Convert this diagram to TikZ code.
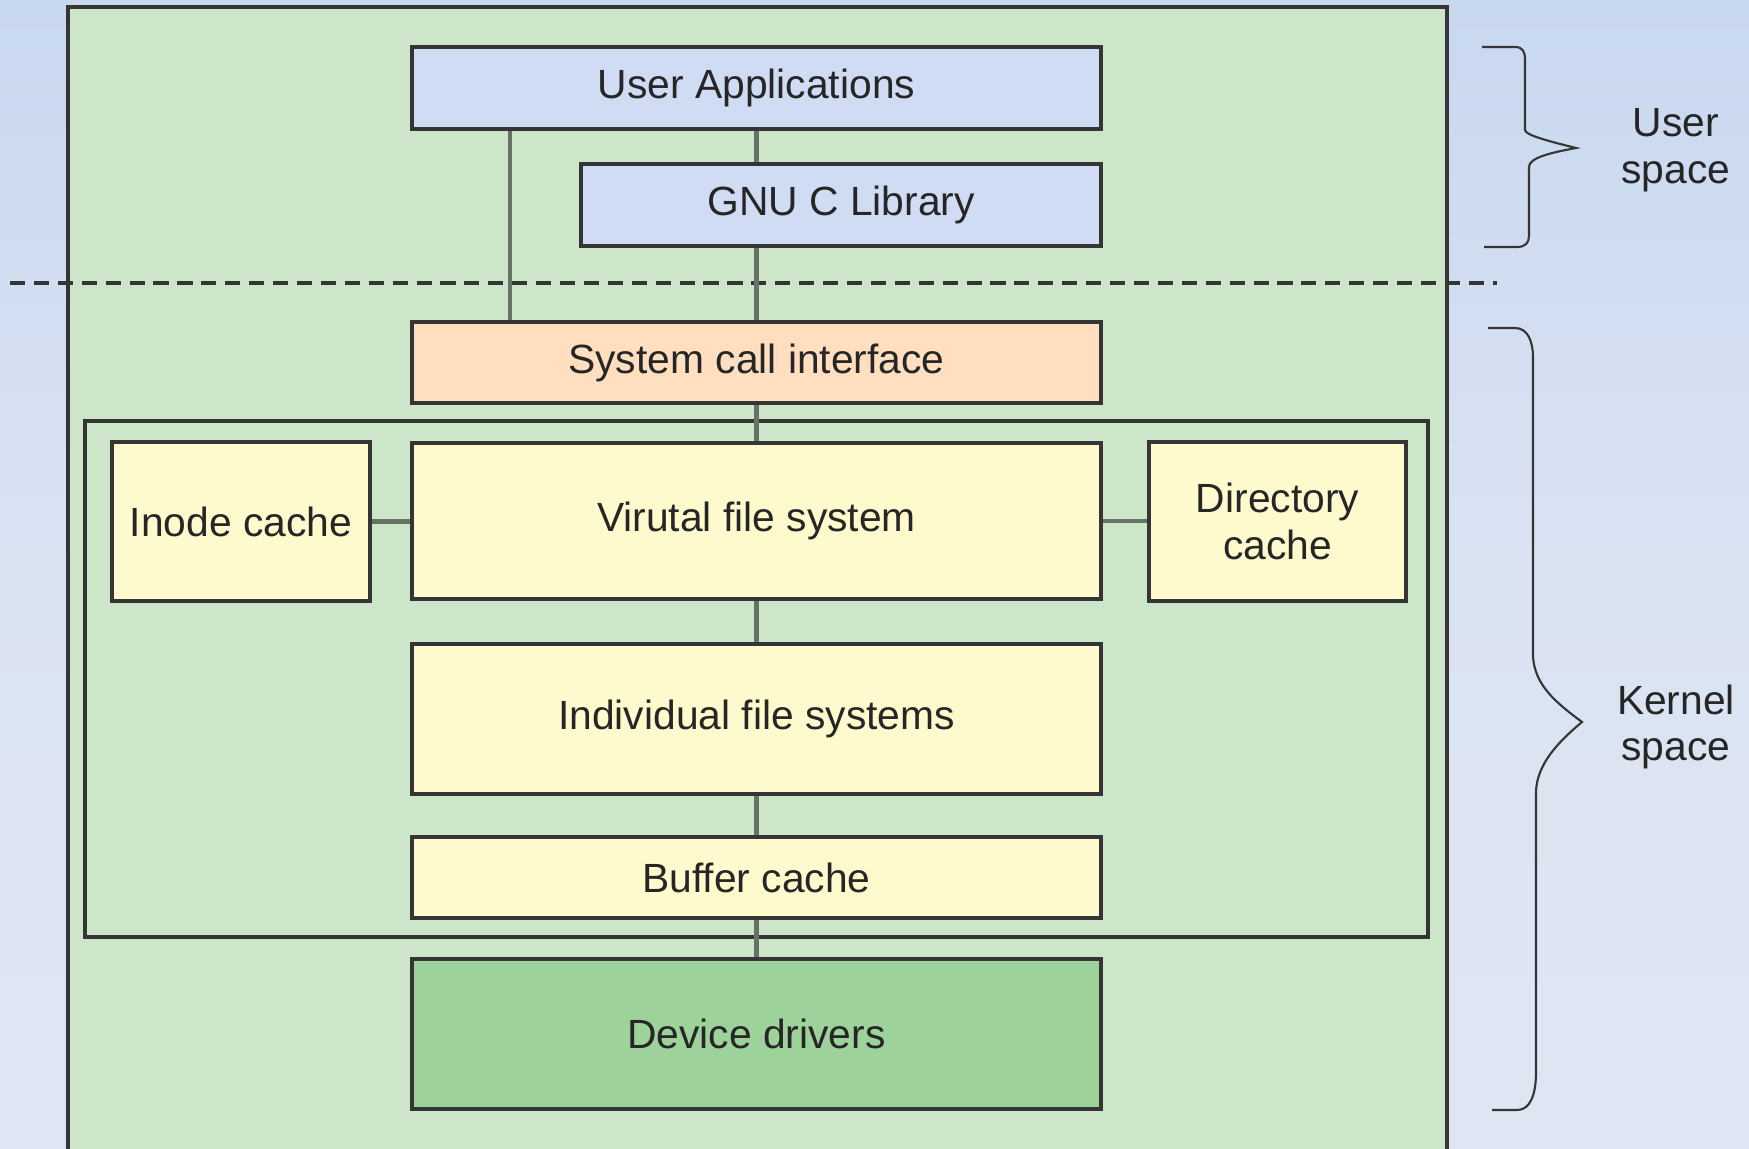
\documentclass[tikz,border=0pt]{standalone}
\usepackage{fontspec}
\setmainfont{Liberation Sans}
\usepackage{tikz}

\definecolor{bgtop}{HTML}{C8D8EF}
\definecolor{bgmid}{HTML}{DAE3F2}
\definecolor{bgbot}{HTML}{DFE6F3}
\definecolor{outgreen}{HTML}{CDE6CA}
\definecolor{userblue}{HTML}{CFDCF3}
\definecolor{sysorange}{HTML}{FFDFC0}
\definecolor{fsyellow}{HTML}{FFFACD}
\definecolor{drvgreen}{HTML}{9DD29A}
\definecolor{boxline}{HTML}{353535}
\definecolor{linkcol}{HTML}{667266}

\begin{document}
\begin{tikzpicture}[x=0.01cm, y=-0.01cm,
	every node/.style={font=\fontsize{11.6}{13.2}\selectfont, text=black!85},
	frame/.style={draw=boxline, line width=1pt},
	layer/.style={frame, inner sep=0pt, align=center, minimum width=6.89cm},
	link/.style={draw=linkcol, line width=1.35pt},
	bracket/.style={draw=boxline, line width=0.6pt}]
					\pgfmathsetmacro{\LinkX}{1}
					% BACKGROUND
					\useasboundingbox (0,0) rectangle (1749,1149);
					\clip (0,0) rectangle (1749,1149);
					\shade[top color=bgtop, bottom color=bgbot, middle color=bgmid] (0,0) rectangle (1749,1149);
					\draw[frame, fill=outgreen] (68,7) rectangle (1447,1180);
					\draw[boxline, line width=1pt, dash pattern=on 4.3pt off 2.5pt] (10,283) -- (1497,283);
					\draw[frame] (85,421) rectangle (1428,937);
					% USER SPACE
					\node[layer, fill=userblue, minimum height=0.82cm] (apps) at (756.5,88) {User Applications};
					\node[layer, fill=userblue, minimum width=5.2cm, minimum height=0.82cm] (glibc) at (841,205) {GNU C Library};
					% KERNEL SPACE
					\node[layer, fill=sysorange, minimum height=0.81cm] (syscall) at (756.5,362.5) {System call interface};
					\node[layer, fill=fsyellow, minimum height=1.56cm] (vfs) at (756.5,521) {Virutal file system};
					\node[layer, fill=fsyellow, minimum width=2.58cm, minimum height=1.59cm] (inode) at (241,521.5) {Inode cache};
					\node[layer, fill=fsyellow, minimum width=2.57cm, minimum height=1.59cm] (dircache) at (1277.5,521.5) {Directory\\cache};
					\node[layer, fill=fsyellow, minimum height=1.5cm] (indiv) at (756.5,719) {Individual file systems};
					\node[layer, fill=fsyellow, minimum height=0.81cm] (buffer) at (756.5,877.5) {Buffer cache};
					\node[layer, fill=drvgreen, minimum height=1.5cm] (drivers) at (756.5,1034) {Device drivers};
					% LINKS
					\draw[link] ([xshift=\LinkX cm]apps.south west) -- ([xshift=\LinkX cm]syscall.north west);
					\draw[link] (apps.south) -- (apps.south |- glibc.north);
					\draw[link] (syscall.north |- glibc.south) -- (syscall.north);
					\draw[link] (syscall.south) -- (vfs.north);
					\draw[link] (inode.east) -- (inode.east -| vfs.west);
					\draw[link] (vfs.east) -- (vfs.east -| dircache.west);
					\draw[link] (vfs.south) -- (indiv.north);
					\draw[link] (indiv.south) -- (buffer.north);
					\draw[link] (buffer.south) -- (drivers.north);
					% BRACES
					\draw[bracket] (1482,47) -- (1515,47) .. controls (1523,47) and (1525,52) .. (1525,60) -- (1525,130)
						.. controls (1525,135) and (1548,141) .. (1576,148) .. controls (1549,153) and (1529,158) .. (1529,167)
						-- (1529,236) .. controls (1529,243) and (1525,247) .. (1517,247) -- (1484,247);
					\draw[bracket] (1488,328) -- (1515,328) .. controls (1527,328) and (1533,340) .. (1533,358) -- (1533,657)
						.. controls (1535,685) and (1555,702) .. (1582,722) .. controls (1558,742) and (1536,765) .. (1536,793)
						-- (1536,1072) .. controls (1536,1095) and (1530,1110) .. (1517,1110) -- (1492,1110);
					\node[align=center] (userlbl) at (1676,150) {User\\space};
					\node[align=center] (kernlbl) at (1676,727) {Kernel\\space};
				\end{tikzpicture}
\end{document}
